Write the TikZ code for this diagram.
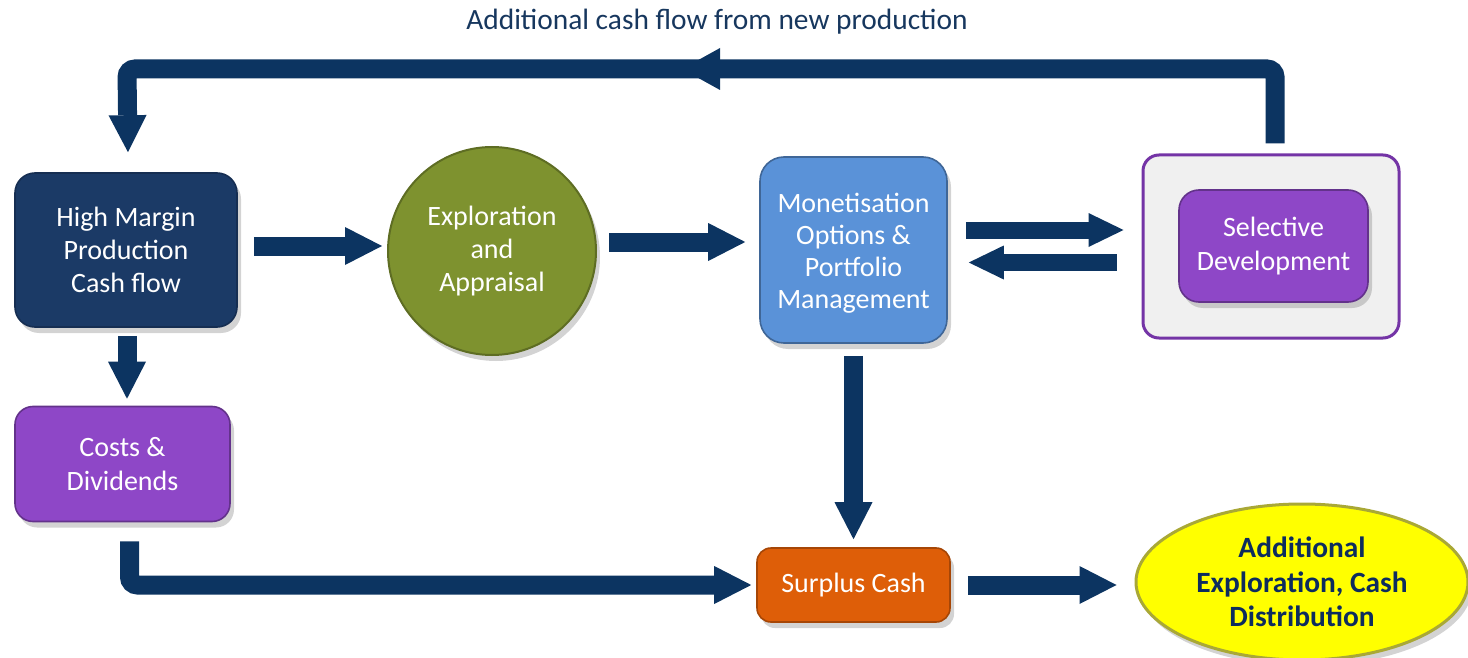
\documentclass[tikz,border=0pt]{standalone}
\usepackage{fontspec}
\setmainfont{Carlito}
\usetikzlibrary{arrows.meta,shapes.geometric,shadows,decorations.markings,calc}
\definecolor{arrownavy}{HTML}{0C3461}
\definecolor{navybox}{HTML}{1B3A66}
\definecolor{olivebox}{HTML}{7E922F}
\definecolor{bluebox}{HTML}{5A92D8}
\definecolor{purplebox}{HTML}{8E47C7}
\definecolor{purpleedge}{HTML}{7434A6}
\definecolor{greyfill}{HTML}{F0F0F0}
\definecolor{orangebox}{HTML}{DE5E08}
\definecolor{yellowfill}{HTML}{FFFF00}
\definecolor{yellowedge}{HTML}{A9A836}
\definecolor{titletext}{HTML}{17375E}
\definecolor{ellipsetext}{HTML}{0D2C5E}
\newcommand{\boxfont}{\fontsize{14}{16.6}\selectfont}
\tikzset{
  shade box/.style={drop shadow={opacity=0.35, shadow xshift=2pt, shadow yshift=-3pt}},
  flowbox/.style={rectangle, rounded corners=10pt, align=center, text=white,
    font=\boxfont, inner sep=0pt, shade box, line width=0.8pt},
  conn/.style={draw=arrownavy, line width=9.5pt,
    -{Triangle[length=18.5pt,width=19pt,line width=0pt]}},
  thinconn/.style={conn, line width=8.5pt, -{Triangle[length=17.5pt,width=17pt,line width=0pt]}},
  midhead/.style={decoration={markings,
    mark=at position #1 with {\arrow[arrownavy]{Triangle[length=19pt,width=21pt,line width=0pt]}}},
    postaction={decorate}}
}
\begin{document}
\begin{tikzpicture}[x=0.5pt,y=-0.5pt]
\useasboundingbox (0,0) rectangle (1468,658);

% title
\node[text=titletext, font=\fontsize{14.7}{17}\selectfont] (title) at (717,22) {Additional cash flow from new production};

% nodes
\node[flowbox, fill=navybox, draw=navybox!80!black, minimum width=111pt, minimum height=77pt] (hm) at (126,250)
  {High Margin\\Production\\Cash flow};
\node[circle, fill=olivebox, draw=olivebox!75!black, line width=1pt, minimum size=104pt, align=center,
  text=white, font=\boxfont, inner sep=0pt, shade box] (ea) at (492,251) {Exploration\\and\\Appraisal};
\node[flowbox, rounded corners=12pt, fill=bluebox, draw=bluebox!70!black, minimum width=93.5pt, minimum height=93pt,
  font=\fontsize{14}{16}\selectfont] (mo) at (853.5,250)
  {\rule{0pt}{13pt}Monetisation\\Options \&\\Portfolio\\Management};
\node[rectangle, rounded corners=8pt, fill=greyfill, draw=purpleedge, line width=1.5pt,
  minimum width=128pt, minimum height=91.5pt] (sdo) at (1271,246.5) {};
\node[flowbox, fill=purplebox, draw=purplebox!70!black, minimum width=94.5pt, minimum height=56pt] (sd) at (1273.5,246)
  {Selective\\Development};
\node[flowbox, rounded corners=9pt, fill=purplebox, draw=purplebox!70!black, minimum width=107.5pt, minimum height=57.5pt] (cd) at (122.5,464)
  {Costs \&\\Dividends};
\node[flowbox, rounded corners=7pt, fill=orangebox, draw=orangebox!75!black, minimum width=96.5pt, minimum height=37pt] (sc) at (853.5,585)
  {Surplus Cash};
\node[ellipse, fill=yellowfill, draw=yellowedge, line width=1.5pt, minimum width=166pt, minimum height=78pt,
  inner sep=0pt, align=center, text=ellipsetext, font=\bfseries\fontsize{14.7}{17.25}\selectfont, shade box] (ad) at (1302,582)
  {Additional\\Exploration, Cash\\Distribution};

% anchor points for connector ends
\coordinate (hm-out) at ($(hm.east)+(8pt,2pt)$);
\coordinate (ea-in) at ($(ea.west)+(-2.5pt,0)$);
\coordinate (ea-out) at ($(ea.east)+(6pt,4.5pt)$);
\coordinate (mo-in) at ($(mo.west)+(-7pt,0)$);
\coordinate (mo-outR) at ($(mo.east)+(9pt,10pt)$);
\coordinate (sdo-inL) at ($(sdo.west)+(-9pt,0)$);
\coordinate (sdo-outL) at ($(sdo.west)+(-12.5pt,-8pt)$);
\coordinate (mo-inR) at ($(mo.east)+(10.5pt,0)$);
\coordinate (sc-out) at ($(sc.east)+(8.5pt,0)$);
\coordinate (ad-in) at ($(ad.west)+(-9pt,0)$);

% loop connector
\coordinate (loopstart) at ($(sdo.north)+(2pt,5pt)$);
\coordinate (looptip) at ($(hm.north)+(1pt,10pt)$);
\coordinate (loopcornerR) at (1275,69);
\coordinate (loopcornerL) at (127,69);
\draw[conn, rounded corners=4pt, midhead=332pt] (loopstart) -- (loopstart |- loopcornerR) -- (loopcornerL) -- (looptip);

% straight connectors
\draw[conn] (hm-out) -- (hm-out -| ea-in);
\draw[conn] (ea-out) -- (ea-out -| mo-in);
\draw[thinconn] (mo-outR) -- (mo-outR -| sdo-inL);
\draw[thinconn] (sdo-outL) -- (sdo-outL -| mo-inR);
\draw[conn] ([xshift=0.5pt,yshift=-4pt]hm.south) -- ([xshift=0.5pt,yshift=3.5pt]cd.north -| hm.south);
\draw[conn, rounded corners=4pt] ([xshift=3.5pt,yshift=-9.5pt]cd.south) |- ([xshift=-2.5pt]sc.west);
\draw[conn] ([yshift=-6pt]mo.south) -- ([yshift=4pt]sc.north);
\draw[conn] (sc-out) -- (sc-out -| ad-in);
\end{tikzpicture}
\end{document}
